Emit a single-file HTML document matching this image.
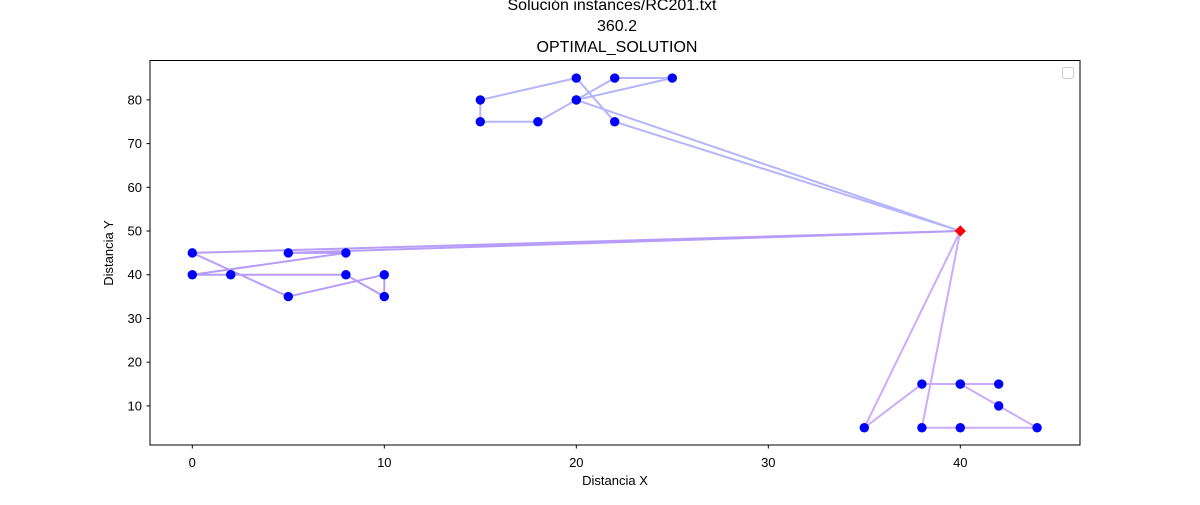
<!DOCTYPE html>
<html><head><meta charset="utf-8"><style>
body{margin:0;background:#fff;font-family:"Liberation Sans",sans-serif}
</style></head><body>
<svg width="1200" height="500" xmlns="http://www.w3.org/2000/svg" font-family="Liberation Sans, DejaVu Sans, sans-serif">
<g id="titles" font-size="16" text-anchor="middle" fill="#000">
<text x="612" y="10">Solución instances/RC201.txt</text>
<text x="617" y="31">360.2</text>
<text x="617" y="52">OPTIMAL_SOLUTION</text>
</g>
<g id="axes"></g>
<g id="routes"></g>
<g id="points"></g>
<rect x="150" y="60.5" width="930" height="384.5" fill="none" stroke="#000" stroke-width="1"/>
<rect x="1062.5" y="67.5" width="11" height="11" rx="2" fill="#fff" stroke="#ccc"/>
<text x="615" y="485" font-size="13" text-anchor="middle">Distancia X</text>
<text x="113" y="253" font-size="13" text-anchor="middle" transform="rotate(-90 113 253)">Distancia Y</text>
</svg>
<script>
const xTicks=[0,10,20,30,40];
const yTicks=[10,20,30,40,50,60,70,80];
const depot=[40,50];
const routeA=[[40,50],[5,45],[8,45],[0,40],[2,40],[8,40],[10,35],[10,40],[5,35],[0,45],[40,50]];
const routeB=[[40,50],[22,75],[20,85],[15,80],[15,75],[18,75],[20,80],[22,85],[25,85],[20,80],[40,50]];
const routeC=[[40,50],[35,5],[38,15],[40,15],[42,15],[40,15],[42,10],[44,5],[40,5],[38,5],[40,50]];
const routeColors=["rgba(125,75,245,0.55)","rgba(120,120,245,0.55)","rgba(165,100,245,0.55)"];
const NS="http://www.w3.org/2000/svg";
const sx=v=>192.3+v*19.2;
const sy=v=>449.6-v*4.3714;
function mk(tag,attrs,parent){const e=document.createElementNS(NS,tag);for(const k in attrs)e.setAttribute(k,attrs[k]);parent.appendChild(e);return e;}
const ax=document.getElementById('axes');
xTicks.forEach(t=>{
 const l=mk('line',{x1:sx(t),x2:sx(t),y1:445,y2:448.5,stroke:'#000'},ax);
 
 
 const tx=mk('text',{x:sx(t),y:467,'font-size':13,'text-anchor':'middle'},ax);tx.textContent=t;
 
 
});
yTicks.forEach(t=>{
 const l=mk('line',{x1:146.5,x2:150,y1:sy(t),y2:sy(t),stroke:'#000'},ax);
 
 
 const tx=mk('text',{x:142,y:sy(t)+4.5,'font-size':13,'text-anchor':'end'},ax);tx.textContent=t;
 
 
});
const rg=document.getElementById('routes'),pg=document.getElementById('points');
[routeA,routeB,routeC].forEach((r,i)=>{
 const p=mk('polyline',{points:r.map(q=>sx(q[0])+','+sy(q[1])).join(' '),fill:'none',stroke:routeColors[i],'stroke-width':2},rg);
 
 
 r.slice(1,-1).forEach(q=>{
  const c=mk('circle',{cx:sx(q[0]),cy:sy(q[1]),r:4.7,fill:'#0000ff'},pg);
  
  
 });
});
const d=mk('rect',{x:sx(depot[0])-4,y:sy(depot[1])-4,width:8,height:8,fill:'#ff0000',transform:`rotate(45 ${sx(depot[0])} ${sy(depot[1])})`},pg);


</script>
</body></html>
